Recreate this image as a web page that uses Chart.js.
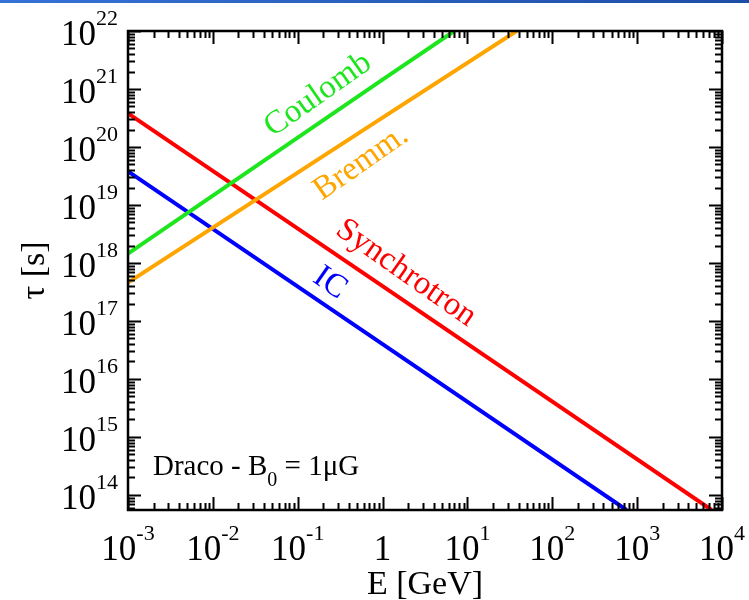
<!DOCTYPE html>
<html>
<head>
<meta charset="utf-8">
<script src="https://cdn.jsdelivr.net/npm/chart.js@4.4.1/dist/chart.umd.min.js"></script>
<style>
  html, body { margin: 0; padding: 0; background: #fff; }
  #wrap { position: relative; width: 749px; height: 600px; }
  #topbar { position: absolute; left: 0; top: 0; width: 749px; height: 3px;
            background: linear-gradient(to right, #3572d6, #1d4ea6); }
  canvas { display: block; }
</style>
</head>
<body>
<div id="wrap">
  <canvas id="chart" width="749" height="600"></canvas>
  <div id="topbar"></div>
</div>
<script>
// energy loss timescales, Draco dSph, B0 = 1 muG
const icEnergy = [1e-3, 1, 750];
const icTau = [3.8e19, 4.0e16, 5.5e13];

const synchEnergy = [1e-3, 1, 7.55e3];
const synchTau = [3.8e20, 4.0e17, 5.5e13];

const coulombEnergy = [1e-3, 1, 7];
const coulombTau = [1.45e18, 1.45e21, 1e22];

const bremEnergy = [1e-3, 1, 38];
const bremTau = [4.6e17, 3.2e20, 1e22];

const xDecades = [-3, -2, -1, 0, 1, 2, 3, 4];
const yDecades = [14, 15, 16, 17, 18, 19, 20, 21, 22];

const SERIF = '"Liberation Serif", "DejaVu Serif", serif';

function toPoints(xs, ys) {
  return xs.map((x, i) => ({ x: x, y: ys[i] }));
}

function logTicks(min, max) {
  const out = [];
  for (let n = Math.floor(Math.log10(min)); n <= Math.ceil(Math.log10(max)); n++) {
    for (let m = 1; m <= 9; m++) {
      const v = m * Math.pow(10, n);
      if (v >= min * 0.999 && v <= max * 1.001) out.push({ v: v, major: m === 1 });
    }
  }
  return out;
}

// power-of-ten label: "10" with a raised exponent, anchored by its total width
function powerLabel(ctx, exp, x, y, align) {
  const big = '35px ' + SERIF, small = '22px ' + SERIF;
  ctx.textBaseline = 'alphabetic';
  ctx.textAlign = 'left';
  if (exp === 0) {
    ctx.font = big;
    const w = ctx.measureText('1').width;
    const x0 = align === 'right' ? x - w : x - w / 2;
    ctx.fillText('1', x0, y);
    return;
  }
  ctx.font = big;
  const wb = ctx.measureText('10').width;
  ctx.font = small;
  const sup = String(exp);
  const ws = ctx.measureText(sup).width;
  const total = wb + ws;
  const x0 = align === 'right' ? x - total : x - total / 2;
  ctx.font = big;
  ctx.fillText('10', x0, y);
  ctx.font = small;
  ctx.fillText(sup, x0 + wb, y - 20);
}

const framePlugin = {
  id: 'frame',
  afterDatasetsDraw(chart) {
    const ctx = chart.ctx;
    const a = chart.chartArea;
    const xs = chart.scales.x, ys = chart.scales.y;
    ctx.save();
    ctx.strokeStyle = '#000';
    ctx.fillStyle = '#000';

    // inward ticks on all four sides
    ctx.lineWidth = 2;
    ctx.beginPath();
    logTicks(xs.min, xs.max).forEach(t => {
      const px = Math.round(xs.getPixelForValue(t.v)) + 0.5;
      const len = t.major ? 13 : 7;
      ctx.moveTo(px, a.bottom); ctx.lineTo(px, a.bottom - len);
      ctx.moveTo(px, a.top); ctx.lineTo(px, a.top + len);
    });
    logTicks(ys.min, ys.max).forEach(t => {
      const py = Math.round(ys.getPixelForValue(t.v)) + 0.5;
      const len = t.major ? 13 : 7;
      ctx.moveTo(a.left, py); ctx.lineTo(a.left + len, py);
      ctx.moveTo(a.right, py); ctx.lineTo(a.right - len, py);
    });
    ctx.stroke();

    ctx.lineWidth = 2.5;
    ctx.strokeRect(a.left, a.top, a.right - a.left, a.bottom - a.top);

    // tick labels
    xDecades.forEach(d => {
      powerLabel(ctx, d, xs.getPixelForValue(Math.pow(10, d)), a.bottom + 50, 'center');
    });
    yDecades.forEach(d => {
      powerLabel(ctx, d, 118, ys.getPixelForValue(Math.pow(10, d)) + 14, 'right');
    });

    // axis titles
    ctx.font = '34px ' + SERIF;
    ctx.textAlign = 'center';
    ctx.textBaseline = 'alphabetic';
    ctx.fillText('E [GeV]', (a.left + a.right) / 2, 594);
    ctx.save();
    ctx.translate(44, (a.top + a.bottom) / 2);
    ctx.rotate(-Math.PI / 2);
    ctx.fillText('\u03c4 [s]', 0, 0);
    ctx.restore();

    // curve labels
    const tag = (txt, color, x, y, deg) => {
      ctx.save();
      ctx.translate(x, y);
      ctx.rotate(deg * Math.PI / 180);
      ctx.fillStyle = color;
      ctx.font = '33px ' + SERIF;
      ctx.textAlign = 'center';
      ctx.textBaseline = 'middle';
      ctx.fillText(txt, 0, 0);
      ctx.restore();
    };
    tag('Coulomb', '#1ee61e', 318, 95, -35);
    tag('Bremm.', '#ffa500', 361, 163, -35);
    tag('Synchrotron', '#ff0000', 406, 273, 35);
    tag('IC', '#0000ff', 330, 283, 35);

    // legend text
    ctx.fillStyle = '#000';
    ctx.textAlign = 'left';
    ctx.textBaseline = 'alphabetic';
    ctx.font = '29px ' + SERIF;
    let tx = 153;
    const ty = 475;
    ctx.fillText('Draco - B', tx, ty);
    tx += ctx.measureText('Draco - B').width;
    ctx.font = '20px ' + SERIF;
    ctx.fillText('0', tx, ty + 11);
    tx += ctx.measureText('0').width;
    ctx.font = '29px ' + SERIF;
    ctx.fillText(' = 1\u03bcG', tx, ty);

    ctx.restore();
  }
};

new Chart(document.getElementById('chart'), {
  type: 'scatter',
  data: {
    datasets: [
      { label: 'Coulomb', data: toPoints(coulombEnergy, coulombTau), borderColor: '#1ee61e' },
      { label: 'Bremm.', data: toPoints(bremEnergy, bremTau), borderColor: '#ffa500' },
      { label: 'Synchrotron', data: toPoints(synchEnergy, synchTau), borderColor: '#ff0000' },
      { label: 'IC', data: toPoints(icEnergy, icTau), borderColor: '#0000ff' }
    ].map(d => Object.assign(d, { showLine: true, borderWidth: 4, pointRadius: 0, fill: false }))
  },
  options: {
    responsive: false,
    animation: false,
    layout: { padding: { left: 128, right: 27, top: 31, bottom: 90 } },
    scales: {
      x: { type: 'logarithmic', min: 1e-3, max: 1e4, display: false },
      y: { type: 'logarithmic', min: 5.5e13, max: 1e22, display: false }
    },
    plugins: { legend: { display: false }, tooltip: { enabled: false } }
  },
  plugins: [framePlugin]
});
</script>
</body>
</html>
